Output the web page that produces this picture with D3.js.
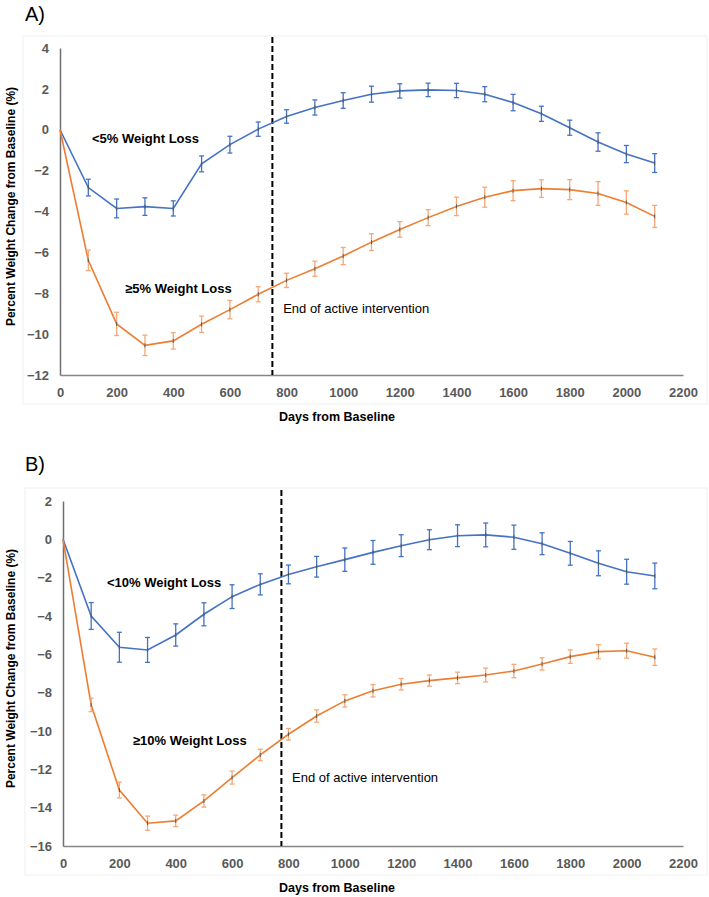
<!DOCTYPE html>
<html>
<head>
<meta charset="utf-8">
<script src="https://cdn.jsdelivr.net/npm/d3@7"></script>
<style>
  body { margin: 0; background: #fff; }
  svg { display: block; font-family: "Liberation Sans", Arial, sans-serif; }
</style>
</head>
<body>
<svg id="chart" width="709" height="897"></svg>
<script>
'use strict';

// days from baseline (shared by both panels)
var days = [0, 100, 200, 300, 400, 500, 600, 700, 800, 900, 1000, 1100, 1200, 1300, 1400, 1500, 1600, 1700, 1800, 1900, 2000, 2100];
var xTicks = [0, 200, 400, 600, 800, 1000, 1200, 1400, 1600, 1800, 2000, 2200];

// panel A : 5% split
var aLowMean = [0, -2.83, -3.85, -3.76, -3.85, -1.67, -0.73, 0.03, 0.65, 1.09, 1.43, 1.74, 1.9, 1.95, 1.92, 1.74, 1.33, 0.78, 0.1, -0.6, -1.19, -1.63];
var aLowErr  = [0, 0.41, 0.46, 0.43, 0.37, 0.39, 0.41, 0.35, 0.33, 0.37, 0.38, 0.39, 0.35, 0.33, 0.35, 0.37, 0.4, 0.37, 0.37, 0.45, 0.42, 0.46];
var aHighMean = [0, -6.39, -9.5, -10.55, -10.33, -9.52, -8.8, -8.05, -7.37, -6.8, -6.18, -5.5, -4.88, -4.3, -3.75, -3.3, -2.98, -2.88, -2.93, -3.12, -3.56, -4.24];
var aHighErr  = [0, 0.5, 0.57, 0.5, 0.4, 0.4, 0.45, 0.37, 0.35, 0.37, 0.42, 0.41, 0.38, 0.39, 0.45, 0.49, 0.49, 0.43, 0.49, 0.58, 0.57, 0.54];
var aTicks = [-12, -10, -8, -6, -4, -2, 0, 2, 4];
var aEndDay = 750;

// panel B : 10% split
var bLowMean = [0, -4.0, -5.63, -5.77, -4.99, -3.91, -2.99, -2.35, -1.83, -1.43, -1.06, -0.68, -0.33, -0.02, 0.19, 0.23, 0.11, -0.23, -0.73, -1.25, -1.69, -1.91];
var bLowErr  = [0, 0.7, 0.78, 0.65, 0.58, 0.6, 0.62, 0.55, 0.49, 0.54, 0.61, 0.62, 0.57, 0.52, 0.57, 0.62, 0.63, 0.57, 0.62, 0.65, 0.65, 0.67];
var bHighMean = [0, -8.64, -13.08, -14.81, -14.69, -13.65, -12.43, -11.25, -10.17, -9.22, -8.43, -7.9, -7.56, -7.37, -7.23, -7.08, -6.87, -6.5, -6.12, -5.86, -5.81, -6.15];
var bHighErr  = [0, 0.35, 0.41, 0.37, 0.3, 0.32, 0.34, 0.3, 0.3, 0.32, 0.32, 0.32, 0.3, 0.29, 0.3, 0.36, 0.35, 0.32, 0.35, 0.37, 0.39, 0.43];
var bTicks = [-16, -14, -12, -10, -8, -6, -4, -2, 0, 2];
var bEndDay = 775;

var blue = "#4472C4", orange = "#ED7D31";

var svg = d3.select("#chart");

function zip(means, errs) {
  return days.map(function (d, i) { return { day: d, v: means[i], e: errs[i] }; });
}

function drawPanel(p) {
  var x = d3.scaleLinear().domain([0, 2200]).range([p.left, p.right]);
  var y = d3.scaleLinear().domain([p.ticks[0], p.ticks[p.ticks.length - 1]]).range([p.bottom, p.top]);
  var g = svg.append("g");

  // faint chart area frame
  g.append("rect")
    .attr("x", p.frame[0]).attr("y", p.frame[1])
    .attr("width", p.frame[2] - p.frame[0]).attr("height", p.frame[3] - p.frame[1])
    .style("fill", "none").style("stroke", "#f0f0f0");

  g.append("text")
    .attr("x", 25).attr("y", p.labelY)
    .style("font-size", "20px")
    .text(p.label);

  // axes
  g.append("g")
    .attr("transform", "translate(0," + p.bottom + ")")
    .call(d3.axisBottom(x).tickValues(xTicks).tickSize(0).tickPadding(13).tickFormat(d3.format("d")))
    .call(function (a) {
      a.select(".domain").style("stroke", "#868686").style("stroke-width", 1.5);
      a.selectAll("text").style("font-family", "'Liberation Sans', Arial, sans-serif")
        .style("font-size", "13px").style("font-weight", "bold").style("fill", "#595959");
    });

  g.append("g")
    .attr("transform", "translate(" + p.left + ",0)")
    .call(d3.axisLeft(y).tickValues(p.ticks).tickSize(0).tickPadding(11).tickFormat(d3.format("d")))
    .call(function (a) {
      a.select(".domain").style("stroke", "#6f6f6f").style("stroke-width", 1.5);
      a.selectAll("text").style("font-family", "'Liberation Sans', Arial, sans-serif")
        .style("font-size", "13px").style("font-weight", "bold").style("fill", "#595959");
    });

  g.append("text")
    .attr("x", 337).attr("y", p.bottom + 46)
    .attr("text-anchor", "middle")
    .style("font-size", "12.5px").style("font-weight", "bold")
    .text("Days from Baseline");

  g.append("text")
    .attr("transform", "translate(15," + ((p.top + p.bottom) / 2 - 5) + ") rotate(-90)")
    .attr("text-anchor", "middle")
    .style("font-size", "12px").style("font-weight", "bold")
    .text("Percent Weight Change from Baseline (%)");

  // end of active intervention
  g.append("line")
    .attr("x1", x(p.endDay)).attr("x2", x(p.endDay))
    .attr("y1", p.top - 11).attr("y2", p.bottom)
    .style("stroke", "#000").style("stroke-width", 2)
    .style("stroke-dasharray", "6,3");

  var line = d3.line()
    .x(function (d) { return x(d.day); })
    .y(function (d) { return y(d.v); });

  p.series.forEach(function (s) {
    var data = zip(s.mean, s.err);
    g.append("path")
      .datum(data)
      .attr("d", line)
      .style("fill", "none").style("stroke", s.color).style("stroke-width", 1.6);

    var bars = g.selectAll(null)
      .data(data.filter(function (d) { return d.e > 0; }))
      .enter().append("g")
      .style("stroke", s.barColor).style("stroke-width", 1.3);
    bars.append("line")
      .attr("x1", function (d) { return x(d.day); }).attr("x2", function (d) { return x(d.day); })
      .attr("y1", function (d) { return y(d.v - d.e); }).attr("y2", function (d) { return y(d.v + d.e); });
    [-1, 1].forEach(function (sign) {
      bars.append("line")
        .attr("x1", function (d) { return x(d.day) - 2.5; }).attr("x2", function (d) { return x(d.day) + 2.5; })
        .attr("y1", function (d) { return y(d.v + sign * d.e); }).attr("y2", function (d) { return y(d.v + sign * d.e); });
    });
    bars.append("line")
      .attr("x1", function (d) { return x(d.day); }).attr("x2", function (d) { return x(d.day); })
      .attr("y1", function (d) { return y(d.v) - 2; }).attr("y2", function (d) { return y(d.v) + 2; })
      .style("stroke", "#555").style("stroke-width", 1);

    g.append("text")
      .attr("x", x(s.labelAt[0])).attr("y", y(s.labelAt[1]))
      .style("font-size", "13px").style("font-weight", "bold")
      .text(s.name);
  });

  g.append("text")
    .attr("x", x(p.endLabelAt[0])).attr("y", y(p.endLabelAt[1]))
    .style("font-size", "13px")
    .text("End of active intervention");
}

drawPanel({
  label: "A)", labelY: 21,
  left: 60, right: 683, top: 48, bottom: 375,
  frame: [23, 36, 707, 404],
  ticks: aTicks, endDay: aEndDay,
  endLabelAt: [788, -8.96],
  series: [
    { name: "<5% Weight Loss", mean: aLowMean, err: aLowErr, color: blue, barColor: blue, labelAt: [113, -0.65] },
    { name: "\u22655% Weight Loss", mean: aHighMean, err: aHighErr, color: orange, barColor: "#F4A878", labelAt: [230, -7.99] }
  ]
});

drawPanel({
  label: "B)", labelY: 471,
  left: 63, right: 683, top: 501, bottom: 846,
  frame: [25, 488, 707, 875],
  ticks: bTicks, endDay: bEndDay,
  endLabelAt: [813, -12.66],
  series: [
    { name: "<10% Weight Loss", mean: bLowMean, err: bLowErr, color: blue, barColor: blue, labelAt: [156, -2.49] },
    { name: "\u226510% Weight Loss", mean: bHighMean, err: bHighErr, color: orange, barColor: "#F4A878", labelAt: [248, -10.73] }
  ]
});
</script>
</body>
</html>
